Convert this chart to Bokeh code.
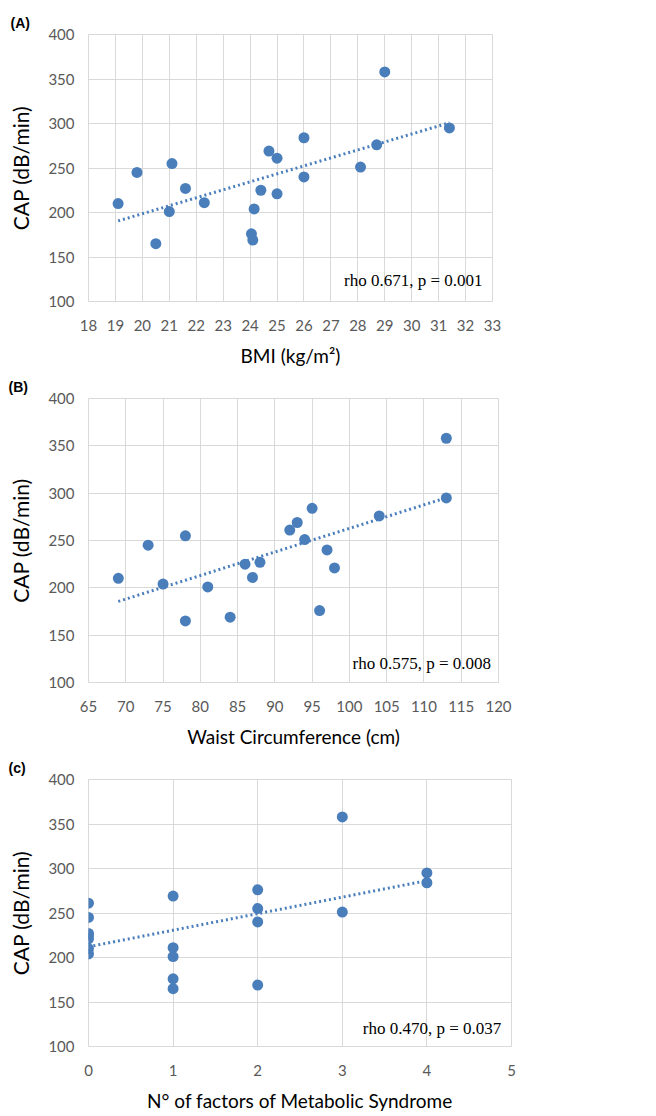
import numpy as np
from bokeh.plotting import figure
from bokeh.layouts import column
from bokeh.models import FixedTicker, Range1d, Label
from bokeh.embed import file_html
from bokeh.resources import INLINE

# ---------------- data ----------------
cap = [210, 245, 165, 201, 255, 227, 211, 176, 169, 204,
       225, 269, 261, 221, 284, 240, 251, 276, 358, 295]
bmi = [19.1, 19.8, 20.5, 21.0, 21.1, 21.6, 22.3, 24.05, 24.1, 24.15,
       24.4, 24.7, 25.0, 25.0, 26.0, 26.0, 28.1, 28.7, 29.0, 31.4]

waist = [69, 73, 78, 81, 78, 88, 87, 96, 84, 75,
         86, 93, 92, 98, 95, 97, 94, 104, 113, 113]

ms_factors = [0, 0, 1, 1, 2, 0, 1, 1, 2, 0,
              0, 1, 0, 0, 4, 2, 3, 2, 3, 4]

y_ticks = [100, 150, 200, 250, 300, 350, 400]
bmi_ticks = list(range(18, 34))
waist_ticks = list(range(65, 121, 5))
ms_ticks = [0, 1, 2, 3, 4, 5]

stats = ["rho 0.671, p = 0.001", "rho 0.575, p = 0.008", "rho 0.470, p = 0.037"]
panel_tags = ["(A)", "(B)", "(c)"]
x_titles = ["BMI (kg/m\u00b2)", "Waist Circumference (cm)", "N\u00b0 of factors of Metabolic Syndrome"]

BLUE = "#4a7ebb"
GRID = "#d9d9d9"
FONT = "Lato"


def panel(x, xticks, xlabel, tag, stat, fw, fh, left, right, top, bottom,
          stat_x, stat_y):
    p = figure(frame_width=fw, frame_height=fh, output_backend="svg",
               toolbar_location=None, min_border_left=left, min_border_right=right,
               min_border_top=top, min_border_bottom=bottom,
               x_range=Range1d(xticks[0], xticks[-1]), y_range=Range1d(100, 400))
    p.background_fill_color = "white"
    p.border_fill_color = "white"
    p.outline_line_color = GRID
    p.outline_line_width = 1
    for ax in (p.xaxis[0], p.yaxis[0]):
        ax.axis_line_color = None
        ax.major_tick_line_color = None
        ax.minor_tick_line_color = None
        ax.major_tick_out = 0
        ax.major_tick_in = 0
        ax.major_label_text_font = FONT
        ax.major_label_text_font_size = "15px"
        ax.major_label_text_color = "#595959"
        ax.axis_label_text_font = FONT
        ax.axis_label_text_font_style = "normal"
        ax.axis_label_text_color = "#000000"
    p.xaxis.axis_label_text_font_size = "19px"
    p.yaxis.axis_label_text_font_size = "21px"
    p.xaxis.ticker = FixedTicker(ticks=xticks)
    p.yaxis.ticker = FixedTicker(ticks=y_ticks)
    p.xaxis.axis_label = xlabel
    p.yaxis.axis_label = "CAP (dB/min)"
    p.xaxis.major_label_standoff = 18
    p.xaxis.axis_label_standoff = 10
    p.yaxis.major_label_standoff = 14
    p.yaxis.axis_label_standoff = 12
    p.xgrid.grid_line_color = GRID
    p.ygrid.grid_line_color = GRID
    p.xgrid.grid_line_width = 1
    p.ygrid.grid_line_width = 1

    p.title.text = tag
    p.title.align = "left"
    p.title.offset = -(left - 8)
    p.title.standoff = 8
    p.title.text_font = "Liberation Sans"
    p.title.text_font_style = "bold"
    p.title.text_font_size = "14px"
    p.title.text_color = "#000000"

    xs = np.array(x, dtype=float)
    ys = np.array(cap, dtype=float)
    k, b = np.polyfit(xs, ys, 1)
    lx = np.array([xs.min(), xs.max()])
    p.line(lx, k * lx + b, line_color=BLUE, line_width=3, line_dash="2 3")
    p.scatter(x, cap, size=11, fill_color=BLUE, line_color=None)

    p.add_layout(Label(x=stat_x, y=stat_y, text=stat, text_font="Liberation Serif",
                       text_font_size="17px", text_color="#000000",
                       text_align="right", text_baseline="middle"))
    return p


pa = panel(bmi, bmi_ticks, x_titles[0], panel_tags[0], stats[0],
           404, 267, 86, 158, 34, 71, 32.63, 124)
pb = panel(waist, waist_ticks, x_titles[1], panel_tags[1], stats[1],
           410, 284, 88, 149, 25, 71, 119.0, 120.5)
pc = panel(ms_factors, ms_ticks, x_titles[2], panel_tags[2], stats[2],
           423, 267, 88, 136, 25, 72, 4.88, 119.7)

layout = column(pa, pb, pc, spacing=0)
open("out.html", "w").write(file_html(layout, INLINE))
